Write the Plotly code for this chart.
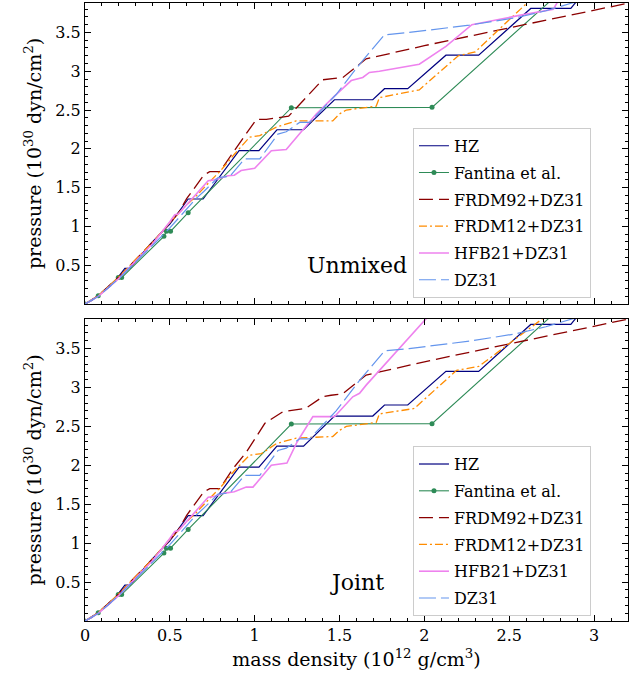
import plotly.graph_objects as go

# ---------------- data (x: mass density 1e12 g/cm3, y: pressure 1e30 dyn/cm2) ----------------
hz_x = [0, 0.04, 0.08, 0.15, 0.2, 0.235, 0.265, 0.3, 0.38, 0.45, 0.5, 0.608, 0.696, 0.908, 1.025,
        1.131, 1.288, 1.47, 1.696, 1.765, 1.902, 2.127, 2.32, 2.627, 2.863, 2.93]
hz_y = [0, 0.045, 0.11, 0.23, 0.36, 0.46, 0.46, 0.55, 0.76, 0.92, 1.03, 1.353, 1.353, 1.976, 1.976,
        2.246, 2.246, 2.633, 2.633, 2.775, 2.775, 3.207, 3.207, 3.81, 3.81, 3.99]

fan_x = [0, 0.078, 0.196, 0.216, 0.465, 0.48, 0.504, 0.608, 1.216, 2.045, 2.78]
fan_y = [0, 0.107, 0.34, 0.34, 0.872, 0.936, 0.936, 1.177, 2.53, 2.535, 3.98]

f92u_x = [0, 0.08, 0.2, 0.3, 0.4, 0.5, 0.55, 0.6, 0.7, 0.735, 0.794, 0.873, 0.951, 1.01, 1.069,
          1.137, 1.2, 1.40, 1.45, 1.52, 1.657, 2.0, 2.5, 3.0, 3.25]
f92u_y = [0, 0.11, 0.35, 0.57, 0.80, 1.04, 1.17, 1.36, 1.66, 1.705, 1.705, 1.955, 2.19, 2.38, 2.38,
          2.40, 2.42, 2.89, 2.90, 2.92, 3.16, 3.33, 3.56, 3.78, 3.90]
f92j_x = [0, 0.08, 0.2, 0.3, 0.4, 0.5, 0.55, 0.6, 0.7, 0.735, 0.794, 0.873, 0.951, 1.06, 1.137,
          1.167, 1.30, 1.40, 1.45, 1.52, 1.657, 2.0, 2.5, 3.0, 3.25]
f92j_y = [0, 0.11, 0.35, 0.57, 0.80, 1.04, 1.17, 1.36, 1.66, 1.70, 1.70, 1.96, 2.17, 2.54, 2.65,
          2.69, 2.73, 2.88, 2.90, 2.92, 3.16, 3.33, 3.56, 3.78, 3.90]

f12u_x = [0, 0.08, 0.2, 0.3, 0.4, 0.5, 0.6, 0.65, 0.7, 0.75, 0.8, 0.88, 0.97, 1.03, 1.128, 1.245,
          1.46, 1.50, 1.54, 1.716, 1.735, 1.97, 2.2, 2.3, 2.6, 2.65]
f12u_y = [0, 0.11, 0.35, 0.57, 0.80, 1.05, 1.28, 1.38, 1.50, 1.61, 1.72, 1.93, 2.15, 2.17, 2.28, 2.36,
          2.36, 2.45, 2.50, 2.55, 2.66, 2.76, 3.20, 3.25, 3.87, 3.95]
f12j_x = [0, 0.08, 0.2, 0.3, 0.4, 0.5, 0.6, 0.65, 0.7, 0.75, 0.8, 0.88, 0.97, 1.04, 1.128, 1.245,
          1.46, 1.50, 1.54, 1.716, 1.735, 1.94, 2.19, 2.32, 2.70, 2.75]
f12j_y = [0, 0.11, 0.35, 0.57, 0.80, 1.05, 1.28, 1.38, 1.50, 1.61, 1.72, 1.93, 2.13, 2.15, 2.28, 2.35,
          2.37, 2.45, 2.50, 2.55, 2.66, 2.73, 3.22, 3.27, 3.89, 3.97]

hfbu_x = [0, 0.08, 0.2, 0.3, 0.4, 0.5, 0.529, 0.55, 0.726, 0.76, 0.843, 0.88, 0.92, 1.0, 1.098, 1.186,
          1.363, 1.47, 1.569, 1.637, 1.676, 1.735, 1.97, 2.127, 2.28, 2.56, 2.76, 2.80]
hfbu_y = [0, 0.10, 0.33, 0.55, 0.78, 1.06, 1.15, 1.16, 1.59, 1.60, 1.654, 1.66, 1.72, 1.75, 1.976, 1.99,
          2.45, 2.68, 2.88, 2.92, 2.985, 3.0, 3.09, 3.32, 3.60, 3.72, 3.80, 3.95]
hfbj_x = [0, 0.08, 0.2, 0.3, 0.4, 0.5, 0.529, 0.55, 0.726, 0.76, 0.814, 0.88, 0.95, 0.99, 1.098, 1.19,
          1.25, 1.343, 1.47, 1.578, 1.618, 1.657, 2.01, 2.05]
hfbj_y = [0, 0.10, 0.33, 0.55, 0.78, 1.06, 1.15, 1.16, 1.59, 1.60, 1.64, 1.66, 1.72, 1.72, 2.0, 2.03,
          2.30, 2.625, 2.625, 2.88, 2.925, 3.03, 3.88, 3.98]

dz_x = [0, 0.08, 0.2, 0.3, 0.4, 0.5, 0.6, 0.65, 0.7, 0.784, 0.853, 0.94, 1.03, 1.137, 1.186, 1.265,
        1.324, 1.48, 1.618, 1.765, 1.91, 2.265, 2.54, 2.716, 2.87, 2.95]
dz_y = [0, 0.10, 0.33, 0.54, 0.76, 0.98, 1.22, 1.35, 1.45, 1.63, 1.645, 1.87, 1.87, 2.19, 2.22, 2.34,
        2.34, 2.70, 3.09, 3.47, 3.50, 3.595, 3.69, 3.78, 3.88, 3.92]

names = ["HZ", "Fantina et al.", "FRDM92+DZ31", "FRDM12+DZ31", "HFB21+DZ31", "DZ31"]
colors = ["navy", "seagreen", "darkred", "darkorange", "violet", "cornflowerblue"]
dashes = ["solid", "solid", "14px,6px", "8px,3px,2px,3px", "solid", "17px,5px"]
widths = [1.2, 1.1, 1.3, 1.3, 1.6, 1.2]

panel_labels = ["Unmixed", "Joint"]
x_ticks = [0, 0.5, 1, 1.5, 2, 2.5, 3]
y_ticks = [0.5, 1, 1.5, 2, 2.5, 3, 3.5]
y_tick_text = ["0.5", "1", "1.5", "2", "2.5", "3", "3.5"]

series_top = [(hz_x, hz_y), (fan_x, fan_y), (f92u_x, f92u_y), (f12u_x, f12u_y), (hfbu_x, hfbu_y), (dz_x, dz_y)]
series_bot = [(hz_x, hz_y), (fan_x, fan_y), (f92j_x, f92j_y), (f12j_x, f12j_y), (hfbj_x, hfbj_y), (dz_x, dz_y)]

FONT = "DejaVu Serif"
fig = go.Figure()

for panel, (series, xa, ya, leg) in enumerate([(series_top, "x", "y", "legend"),
                                                 (series_bot, "x2", "y2", "legend2")]):
    for i, (xs, ys) in enumerate(series):
        mode = "lines+markers" if i == 1 else "lines"
        fig.add_trace(go.Scatter(
            x=xs, y=ys, mode=mode, name=names[i], xaxis=xa, yaxis=ya, legend=leg,
            legendgroup=f"{leg}_{i}",
            line=dict(color=colors[i], width=widths[i], dash=dashes[i]),
            marker=dict(size=5, color=colors[i]) if i == 1 else None,
        ))

axis_common = dict(showline=True, linecolor="black", linewidth=1, mirror="allticks",
                   ticks="inside", ticklen=6, tickcolor="black", showgrid=False, zeroline=False,
                   tickfont=dict(family=FONT, size=16, color="black"))
xminor = dict(ticks="inside", ticklen=3, tickcolor="black", tick0=0, dtick=0.1, showgrid=False)
yminor = dict(ticks="inside", ticklen=3, tickcolor="black", tick0=0, dtick=0.1, showgrid=False)

fig.update_layout(
    width=642, height=684,
    margin=dict(l=85, r=14, t=3, b=63),
    plot_bgcolor="white", paper_bgcolor="white",
    font=dict(family=FONT, color="black"),
    xaxis=dict(domain=[0, 1], range=[0, 3.2], anchor="y", tickvals=x_ticks, showticklabels=False,
               minor=xminor, **axis_common),
    yaxis=dict(domain=[0.513, 1], range=[0, 3.88], anchor="x", tickvals=y_ticks, ticktext=y_tick_text,
               minor=yminor,
               title=dict(text="pressure (10<sup>30</sup> dyn/cm<sup>2</sup>)",
                          font=dict(family=FONT, size=19), standoff=8),
               **axis_common),
    xaxis2=dict(domain=[0, 1], range=[0, 3.2], anchor="y2", tickvals=x_ticks, minor=xminor,
                title=dict(text="mass density (10<sup>12</sup> g/cm<sup>3</sup>)",
                           font=dict(family=FONT, size=19), standoff=8),
                **axis_common),
    yaxis2=dict(domain=[0, 0.4887], range=[0, 3.88], anchor="x2", tickvals=y_ticks, ticktext=y_tick_text,
                minor=yminor,
                title=dict(text="pressure (10<sup>30</sup> dyn/cm<sup>2</sup>)",
                           font=dict(family=FONT, size=19), standoff=8),
                **axis_common),
    legend=dict(x=0.604, y=0.798, xanchor="left", yanchor="top", bgcolor="white",
                bordercolor="#cccccc", borderwidth=1, tracegroupgap=3,
                font=dict(family=FONT, size=16, color="black")),
    legend2=dict(x=0.604, y=0.283, xanchor="left", yanchor="top", bgcolor="white",
                 bordercolor="#cccccc", borderwidth=1, tracegroupgap=3,
                 font=dict(family=FONT, size=16, color="black")),
    annotations=[
        dict(text=panel_labels[0], x=1.6, y=0.5, xref="x", yref="y", showarrow=False,
             font=dict(family=FONT, size=22, color="black")),
        dict(text=panel_labels[1], x=1.6, y=0.5, xref="x2", yref="y2", showarrow=False,
             font=dict(family=FONT, size=22, color="black")),
    ],
)

fig.write_html("out.html")
